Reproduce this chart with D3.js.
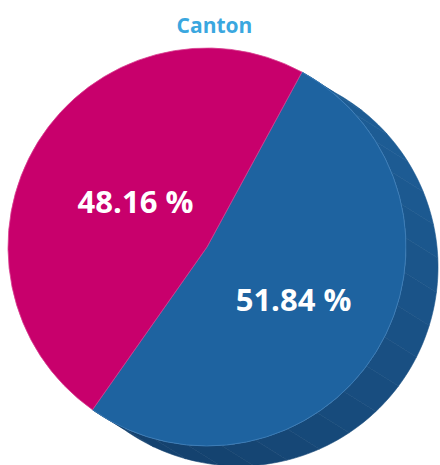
<!DOCTYPE html>
<html><head><meta charset="utf-8">
<script src="https://cdn.jsdelivr.net/npm/d3@7/dist/d3.min.js"></script>
<style>html,body{margin:0;padding:0;background:#fff;}svg{display:block;}</style>
</head><body>
<svg id="chart" width="440" height="465"></svg>
<script>
const title = "Canton";
const categories = ["Part 1", "Part 2"];
const values = [51.84, 48.16];
const colors = ["#1e63a0", "#c8006c"];

const W = 440, H = 465;
const cx = 207, cy = 247, r = 199;
const depth = [32, 20];
const startDeg = 28.5;

const svg = d3.select("#chart");

svg.append("text").attr("x", 214.5).attr("y", 33)
  .attr("text-anchor", "middle")
  .attr("font-family", "'Open Sans', sans-serif")
  .attr("font-weight", 700).attr("font-size", 21)
  .attr("fill", "#3aa7df").text(title);

const pie = d3.pie().sort(null)
  .startAngle(startDeg * Math.PI / 180)
  .endAngle(startDeg * Math.PI / 180 + 2 * Math.PI);
const arcs = pie(values);

const pt = (a, ox, oy) => [cx + ox + r * Math.sin(a), cy + oy - r * Math.cos(a)];
const shade = d3.scaleLinear().domain([60, 185]).range(["#1d5c94", "#14426f"])
  .interpolate(d3.interpolateRgb).clamp(true);

// Extruded side: only the first (blue) slice's side is visible from this viewpoint
const gSide = svg.append("g");
const d0 = arcs[0];
{
  const a0 = d0.startAngle, a1 = d0.endAngle;
  [a0, a1].forEach(a => {
    const p = pt(a, 0, 0), q = pt(a, depth[0], depth[1]);
    gSide.append("path")
      .attr("d", d3.line()([[cx, cy], p, q, [cx + depth[0], cy + depth[1]]]) + "Z")
      .attr("fill", shade(a * 180 / Math.PI));
  });
  const n = Math.max(2, Math.ceil((a1 - a0) / (Math.PI / 18)));
  const step = (a1 - a0) / n;
  for (let k = 0; k < n; k++) {
    const s0 = a0 + k * step, s1 = s0 + step;
    const pts = [];
    const m = 8;
    for (let j = 0; j <= m; j++) pts.push(pt(s0 + (s1 - s0) * j / m, 0, 0));
    for (let j = m; j >= 0; j--) pts.push(pt(s0 + (s1 - s0) * j / m, depth[0], depth[1]));
    const col = shade(((s0 + s1) / 2) * 180 / Math.PI);
    gSide.append("path").attr("d", d3.line()(pts) + "Z")
      .attr("fill", col)
      .attr("stroke", col).attr("stroke-width", 0.6);
  }
}

const arcGen = d3.arc().innerRadius(0).outerRadius(r);
const gTop = svg.append("g").attr("transform", `translate(${cx},${cy})`);
gTop.selectAll("path").data(arcs).join("path")
  .attr("d", arcGen)
  .attr("fill", (d, i) => colors[i])
  .attr("stroke", (d, i) => i === 0 ? "#3f80bb" : "#d8408f")
  .attr("stroke-width", 0.8)
  .attr("stroke-linejoin", "round");

const labelArc = d3.arc().innerRadius(93).outerRadius(93);
const gLab = svg.append("g").attr("transform", `translate(${cx + 7.5},${cy + 4})`);
gLab.selectAll("text").data(arcs).join("text")
  .attr("transform", d => `translate(${labelArc.centroid(d)})`)
  .attr("text-anchor", "middle").attr("dy", "0.36em")
  .attr("font-family", "'Open Sans', sans-serif")
  .attr("font-weight", 700).attr("font-size", 31)
  .attr("fill", "#ffffff")
  .text(d => d.data.toFixed(2) + " %");
</script>
</body></html>
